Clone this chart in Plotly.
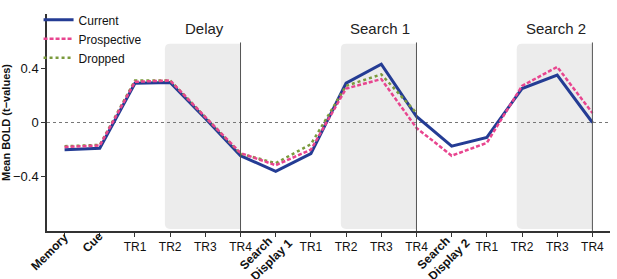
import plotly.graph_objects as go

categories = ["Memory", "Cue", "TR1", "TR2", "TR3", "TR4", "Search<br>Display 1", "TR1", "TR2", "TR3", "TR4",
              "Search<br>Display 2", "TR1", "TR2", "TR3", "TR4"]
rotated = [True, True, False, False, False, False, True, False, False, False, False, True, False, False, False, False]
current = [-0.20, -0.19, 0.29, 0.295, 0.03, -0.245, -0.36, -0.23, 0.29, 0.43, 0.045, -0.175, -0.11, 0.25, 0.35, 0.0]
prospective = [-0.18, -0.17, 0.30, 0.31, 0.04, -0.225, -0.315, -0.20, 0.25, 0.32, -0.04, -0.245, -0.15, 0.27, 0.41, 0.07]
dropped = [-0.175, -0.165, 0.31, 0.31, 0.04, -0.23, -0.30, -0.16, 0.27, 0.355, 0.07, None, None, None, None, None]
periods = ["Delay", "Search 1", "Search 2"]
period_start = [2.85, 7.85, 12.85]
period_end = [5, 10, 15]
yticks = [-0.4, 0, 0.4]
yticklabels = ["\u22120.4", "0", "0.4"]

x = list(range(len(categories)))
fig = go.Figure()

# shaded periods with rounded corners
rx, ry = 0.15, 0.04
top, bot = 0.58, -0.785
for s, e in zip(period_start, period_end):
    path = (f"M {s+rx},{bot} L {e},{bot} L {e},{top} L {s+rx},{top} "
            f"Q {s},{top} {s},{top-ry} L {s},{bot+ry} Q {s},{bot} {s+rx},{bot} Z")
    fig.add_shape(type="path", path=path, fillcolor="#ececec", line_width=0, layer="below")
    fig.add_shape(type="line", x0=e, x1=e, y0=0.59, y1=-0.8, line=dict(color="#555555", width=1))

fig.add_shape(type="line", x0=-0.5, x1=15.5, y0=0, y1=0, line=dict(color="#777777", width=1, dash="dot"),
              layer="below")

for name, s, e in zip(periods, period_start, period_end):
    fig.add_annotation(x=(s + e) / 2 + 0.05, y=0.615, text=name, showarrow=False,
                       font=dict(size=15, color="#222222", family="Arial"), yanchor="bottom")

fig.add_trace(go.Scatter(x=x, y=current, mode="lines", name="Current", legendrank=1,
                         line=dict(color="#243c94", width=3)))
fig.add_trace(go.Scatter(x=x, y=dropped, mode="lines", name="Dropped", legendrank=3,
                         line=dict(color="#7a9a3c", width=2.5, dash="3px,3px")))
fig.add_trace(go.Scatter(x=x, y=prospective, mode="lines", name="Prospective", legendrank=2,
                         line=dict(color="#e8458f", width=2.5, dash="4px,2px")))

ticktext = ["" if r else c for c, r in zip(categories, rotated)]
label_shift = {0: -15, 1: -7, 6: -9, 11: -8}
label_y = {0: -0.099, 1: -0.05, 6: -0.108, 11: -0.104}
for i, (c, r) in enumerate(zip(categories, rotated)):
    if r:
        fig.add_annotation(x=i, y=label_y[i], xref="x", yref="paper", text="<b>" + c + "</b>",
                           xshift=label_shift[i], textangle=-45, showarrow=False, align="left",
                           xanchor="center", yanchor="middle",
                           font=dict(size=12, color="#111111", family="Arial"))

fig.update_layout(
    width=617, height=279,
    margin=dict(l=47, r=7, t=5, b=48),
    plot_bgcolor="white", paper_bgcolor="white",
    font=dict(family="Arial", size=12, color="#111111"),
    showlegend=True,
    legend=dict(x=-0.015, y=1.04, xanchor="left", yanchor="top", bgcolor="rgba(0,0,0,0)",
                font=dict(size=12), tracegroupgap=0, itemwidth=30),
)
fig.update_xaxes(range=[-0.5, 15.5], tickvals=x, ticktext=ticktext, tickangle=0, automargin=False,
                 showline=True, linecolor="#333333", linewidth=1.5, ticks="outside", ticklen=4,
                 tickcolor="#333333", showgrid=False, zeroline=False, tickfont=dict(size=12))
fig.update_yaxes(range=[-0.8, 0.8], tickvals=yticks, ticktext=yticklabels, automargin=False,
                 showline=True, linecolor="#333333", linewidth=1.5, ticks="outside", ticklen=4,
                 tickcolor="#333333", showgrid=False, zeroline=False, tickfont=dict(size=13),
                 title=dict(text="<b>Mean BOLD (t\u2212values)</b>", font=dict(size=11), standoff=0))

fig.write_html("out.html", config={"displayModeBar": False},
               post_script="document.body.style.margin='0';document.body.style.overflow='hidden';")
